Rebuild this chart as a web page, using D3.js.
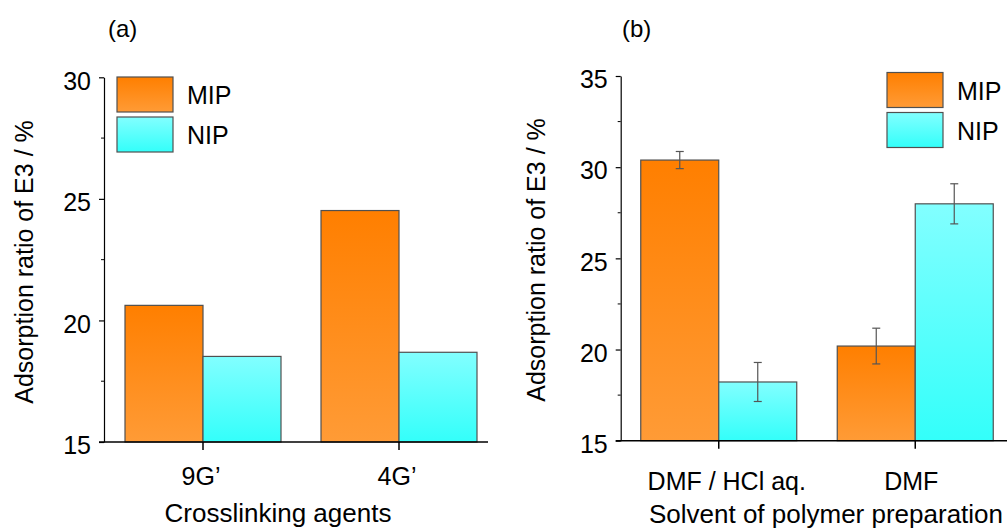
<!DOCTYPE html>
<html lang="en">
<head>
  <meta charset="UTF-8">
  <title>Adsorption ratio of E3</title>
  <script src="https://d3js.org/d3.v7.min.js"></script>
  <style>
    body { margin: 0; background: #fff; }
    svg { display: block; font-family: "Liberation Sans", Arial, sans-serif; }
    .tick text { fill: #000; }
  </style>
</head>
<body>
  <svg width="1007" height="530"></svg>

  <script>
    // Panel (a): crosslinking agents
    const catsA = ["9G\u2019", "4G\u2019"];
    const mipA = [20.62, 24.52];
    const nipA = [18.52, 18.69];
    const yTicksA = [15, 20, 25, 30];

    // Panel (b): solvent of polymer preparation
    const catsB = ["DMF / HCl aq.", "DMF"];
    const mipB = [30.39, 20.19];
    const nipB = [18.22, 27.99];
    const mipErrB = [0.47, 0.98];
    const nipErrB = [1.07, 1.10];
    const yTicksB = [15, 20, 25, 30, 35];

    const seriesNames = ["MIP", "NIP"];

    const svg = d3.select("svg");
    const defs = svg.append("defs");

    // vertical gradients like the original bars
    const grad = (id, top, bottom) => {
      const g = defs.append("linearGradient").attr("id", id)
        .attr("x1", 0).attr("y1", 0).attr("x2", 0).attr("y2", 1);
      g.append("stop").attr("offset", "0%").attr("stop-color", top);
      g.append("stop").attr("offset", "100%").attr("stop-color", bottom);
    };
    grad("gMIP", "#ff7f00", "#ff9b36");
    grad("gNIP", "#82ffff", "#33fffa");
    const fills = ["url(#gMIP)", "url(#gNIP)"];

    function panel(opt) {
      const g = svg.append("g");

      const y = d3.scaleLinear().domain(opt.yDomain).range([opt.bottom, opt.top]);
      const x = d3.scaleBand().domain(opt.cats).range(opt.xRange);
      const barW = 78;

      // bars
      const series = [opt.mip, opt.nip];
      series.forEach((vals, s) => {
        g.selectAll(null).data(vals).enter().append("rect")
          .attr("x", (d, i) => x(opt.cats[i]) + x.bandwidth() / 2 - barW + s * barW)
          .attr("y", d => y(d))
          .attr("width", barW)
          .attr("height", d => y(opt.yDomain[0]) - y(d))
          .attr("fill", fills[s])
          .attr("stroke", "#505050")
          .attr("stroke-width", 1.2);
      });

      // error bars
      if (opt.errs) {
        opt.errs.forEach((errs, s) => {
          errs.forEach((e, i) => {
            const cx = x(opt.cats[i]) + x.bandwidth() / 2 - barW / 2 + s * barW;
            const v = series[s][i];
            const eg = g.append("g").attr("stroke", "#555").attr("stroke-width", 1.2);
            eg.append("line").attr("x1", cx).attr("x2", cx).attr("y1", y(v + e)).attr("y2", y(v - e));
            eg.append("line").attr("x1", cx - 4).attr("x2", cx + 4).attr("y1", y(v + e)).attr("y2", y(v + e));
            eg.append("line").attr("x1", cx - 4).attr("x2", cx + 4).attr("y1", y(v - e)).attr("y2", y(v - e));
          });
        });
      }

      // minor y ticks
      const minor = d3.range(opt.yDomain[0] + 2.5, opt.yDomain[1], 5);
      g.selectAll(null).data(minor).enter().append("line")
        .attr("x1", opt.left - 3).attr("x2", opt.left)
        .attr("y1", d => y(d)).attr("y2", d => y(d))
        .attr("stroke", "#000").attr("stroke-width", 1);

      // y axis
      const ya = g.append("g")
        .attr("transform", `translate(${opt.left},0)`)
        .call(d3.axisLeft(y).tickValues(opt.yTicks).tickSize(5).tickSizeOuter(0).tickPadding(8));
      ya.selectAll("path, line").attr("stroke", "#000").attr("stroke-width", 1.2);
      ya.selectAll("text").attr("font-size", 25).attr("dy", "0.47em");

      // x axis
      const xa = g.append("g")
        .attr("transform", `translate(0,${opt.bottom})`)
        .call(d3.axisBottom(x).tickSize(8).tickSizeOuter(0));
      xa.select(".domain").remove();
      xa.append("line").attr("x1", opt.left - 5).attr("x2", opt.xEnd)
        .attr("stroke", "#000").attr("stroke-width", 1.5);
      xa.selectAll(".tick line").attr("stroke", "#000").attr("stroke-width", 1.5);
      xa.selectAll(".tick text")
        .attr("font-size", 25).attr("y", opt.tickTextY).attr("dy", 0)
        .attr("dx", (d, i) => opt.tickDx[i]);

      // legend
      seriesNames.forEach((name, s) => {
        const ly = opt.legY + s * 40;
        g.append("rect").attr("x", opt.legX).attr("y", ly).attr("width", 56).attr("height", 35)
          .attr("fill", fills[s]).attr("stroke", "#505050").attr("stroke-width", 1.2);
        g.append("text").attr("x", opt.legX + 70).attr("y", ly + 27)
          .attr("font-size", 25).attr("fill", "#000").text(name);
      });

      // panel label
      g.append("text").attr("x", opt.labelX).attr("y", 37)
        .attr("font-size", 24).attr("fill", "#000").text(opt.label);

      // axis titles
      g.append("text")
        .attr("transform", `translate(${opt.yTitleX},${opt.yTitleY}) rotate(-90)`)
        .attr("text-anchor", "middle").attr("font-size", 25).attr("fill", "#000")
        .text("Adsorption ratio of E3 / %");
      g.append("text")
        .attr("x", opt.xTitleX).attr("y", opt.xTitleY)
        .attr("text-anchor", "middle").attr("font-size", 26).attr("fill", "#000")
        .text(opt.xTitle);
    }

    panel({
      cats: catsA, mip: mipA, nip: nipA, yTicks: yTicksA,
      yDomain: [15, 30], top: 77.3, bottom: 442, left: 104,
      xRange: [105, 497], xEnd: 488, tickTextY: 43, tickDx: [-2, -2],
      legX: 117, legY: 77, label: "(a)", labelX: 108,
      yTitleX: 33, yTitleY: 262, xTitleX: 278, xTitleY: 522, xTitle: "Crosslinking agents"
    });

    panel({
      cats: catsB, mip: mipB, nip: nipB, errs: [mipErrB, nipErrB], yTicks: yTicksB,
      yDomain: [15, 35], top: 76, bottom: 440.7, left: 620.7,
      xRange: [620.5, 1013.5], xEnd: 1007, tickTextY: 49, tickDx: [8, -4],
      legX: 887, legY: 72.5, label: "(b)", labelX: 622,
      yTitleX: 545, yTitleY: 260, xTitleX: 826, xTitleY: 523, xTitle: "Solvent of polymer preparation"
    });
  </script>
</body>
</html>
